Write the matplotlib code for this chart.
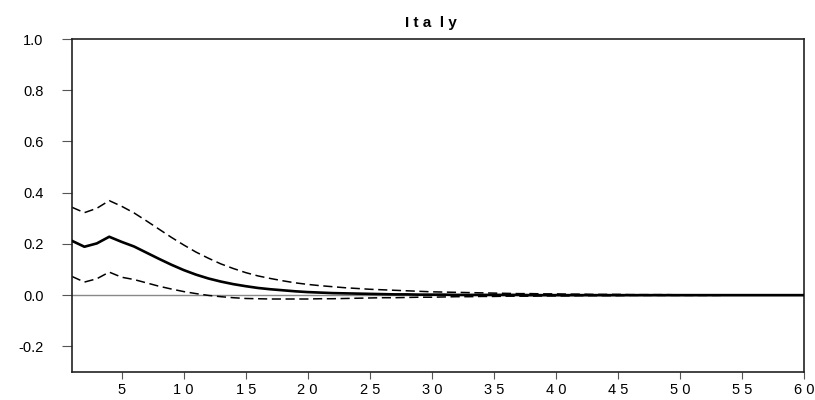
import matplotlib.pyplot as plt
import numpy as np

# horizons 1..60
periods = list(range(1, 61))

# impulse response (point estimate)
resp = [0.212, 0.189, 0.202, 0.228, 0.208, 0.190, 0.166, 0.142, 0.119, 0.098,
        0.080, 0.065, 0.053, 0.043, 0.035, 0.028, 0.023, 0.019, 0.015, 0.012,
        0.010, 0.008, 0.007, 0.006, 0.005, 0.004, 0.003, 0.003, 0.002, 0.002,
        0.002, 0.001, 0.001, 0.001, 0.001, 0.001, 0.001, 0.000, 0.000, 0.000,
        0.000, 0.000, 0.000, 0.000, 0.000, 0.000, 0.000, 0.000, 0.000, 0.000,
        0.000, 0.000, 0.000, 0.000, 0.000, 0.000, 0.000, 0.000, 0.000, 0.000]

# upper band
upper = [0.343, 0.322, 0.339, 0.369, 0.347, 0.321, 0.290, 0.258, 0.226, 0.196,
         0.168, 0.144, 0.122, 0.104, 0.088, 0.075, 0.065, 0.056, 0.048, 0.042,
         0.037, 0.033, 0.029, 0.026, 0.023, 0.021, 0.019, 0.017, 0.015, 0.013,
         0.012, 0.011, 0.010, 0.009, 0.008, 0.007, 0.006, 0.006, 0.005, 0.005,
         0.004, 0.004, 0.003, 0.003, 0.003, 0.002, 0.002, 0.002, 0.002, 0.001,
         0.001, 0.001, 0.001, 0.001, 0.001, 0.001, 0.001, 0.000, 0.000, 0.000]

# lower band
lower = [0.073, 0.051, 0.064, 0.090, 0.070, 0.061, 0.048, 0.035, 0.024, 0.014,
         0.006, -0.001, -0.006, -0.010, -0.013, -0.014, -0.015, -0.015, -0.015, -0.015,
         -0.014, -0.014, -0.013, -0.012, -0.011, -0.010, -0.010, -0.009, -0.008, -0.008,
         -0.007, -0.006, -0.006, -0.005, -0.005, -0.004, -0.004, -0.004, -0.003, -0.003,
         -0.003, -0.002, -0.002, -0.002, -0.002, -0.001, -0.001, -0.001, -0.001, -0.001,
         -0.001, -0.001, -0.001, 0.000, 0.000, 0.000, 0.000, 0.000, 0.000, 0.000]

xticks = [5, 10, 15, 20, 25, 30, 35, 40, 45, 50, 55, 60]
xticklabels = ["5", "1 0", "1 5", "2 0", "2 5", "3 0", "3 5", "4 0", "4 5", "5 0", "5 5", "6 0"]
yticks = [-0.2, 0.0, 0.2, 0.4, 0.6, 0.8, 1.0]

plt.rcParams['font.family'] = ['Liberation Sans', 'DejaVu Sans']

fig = plt.figure(figsize=(8.15, 4.0), dpi=100)
ax = fig.add_axes([72/815, 1 - 372/400, (804-72)/815, (372-39)/400])

ax.axhline(0, color='#888888', lw=1.0, zorder=1)
ax.plot(periods, resp, color='black', lw=1.9, zorder=3)
ax.plot(periods, upper, color='black', lw=1.1, dashes=(6, 3), zorder=2)
ax.plot(periods, lower, color='black', lw=1.1, dashes=(6, 3), zorder=2)

ax.set_xlim(1, 60)
ax.set_ylim(-0.3, 1.0)
ax.set_xticks(xticks)
ax.set_xticklabels(xticklabels)
ax.set_yticks(yticks)
ax.set_yticklabels([f"{v:.1f}" for v in yticks])

ax.tick_params(axis='y', direction='out', length=7.5, width=0.8, color='#555555',
               pad=13, labelsize=10.5)
ax.tick_params(axis='x', direction='out', length=5, width=0.8, color='#555555',
               pad=3, labelsize=10.5)
for s in ax.spines.values():
    s.set_linewidth(1.2)
    s.set_color('#222222')

ax.set_title("I t a  l y", fontsize=11, fontweight='bold', pad=9, x=0.49)

fig.savefig("out.png", dpi=100)
